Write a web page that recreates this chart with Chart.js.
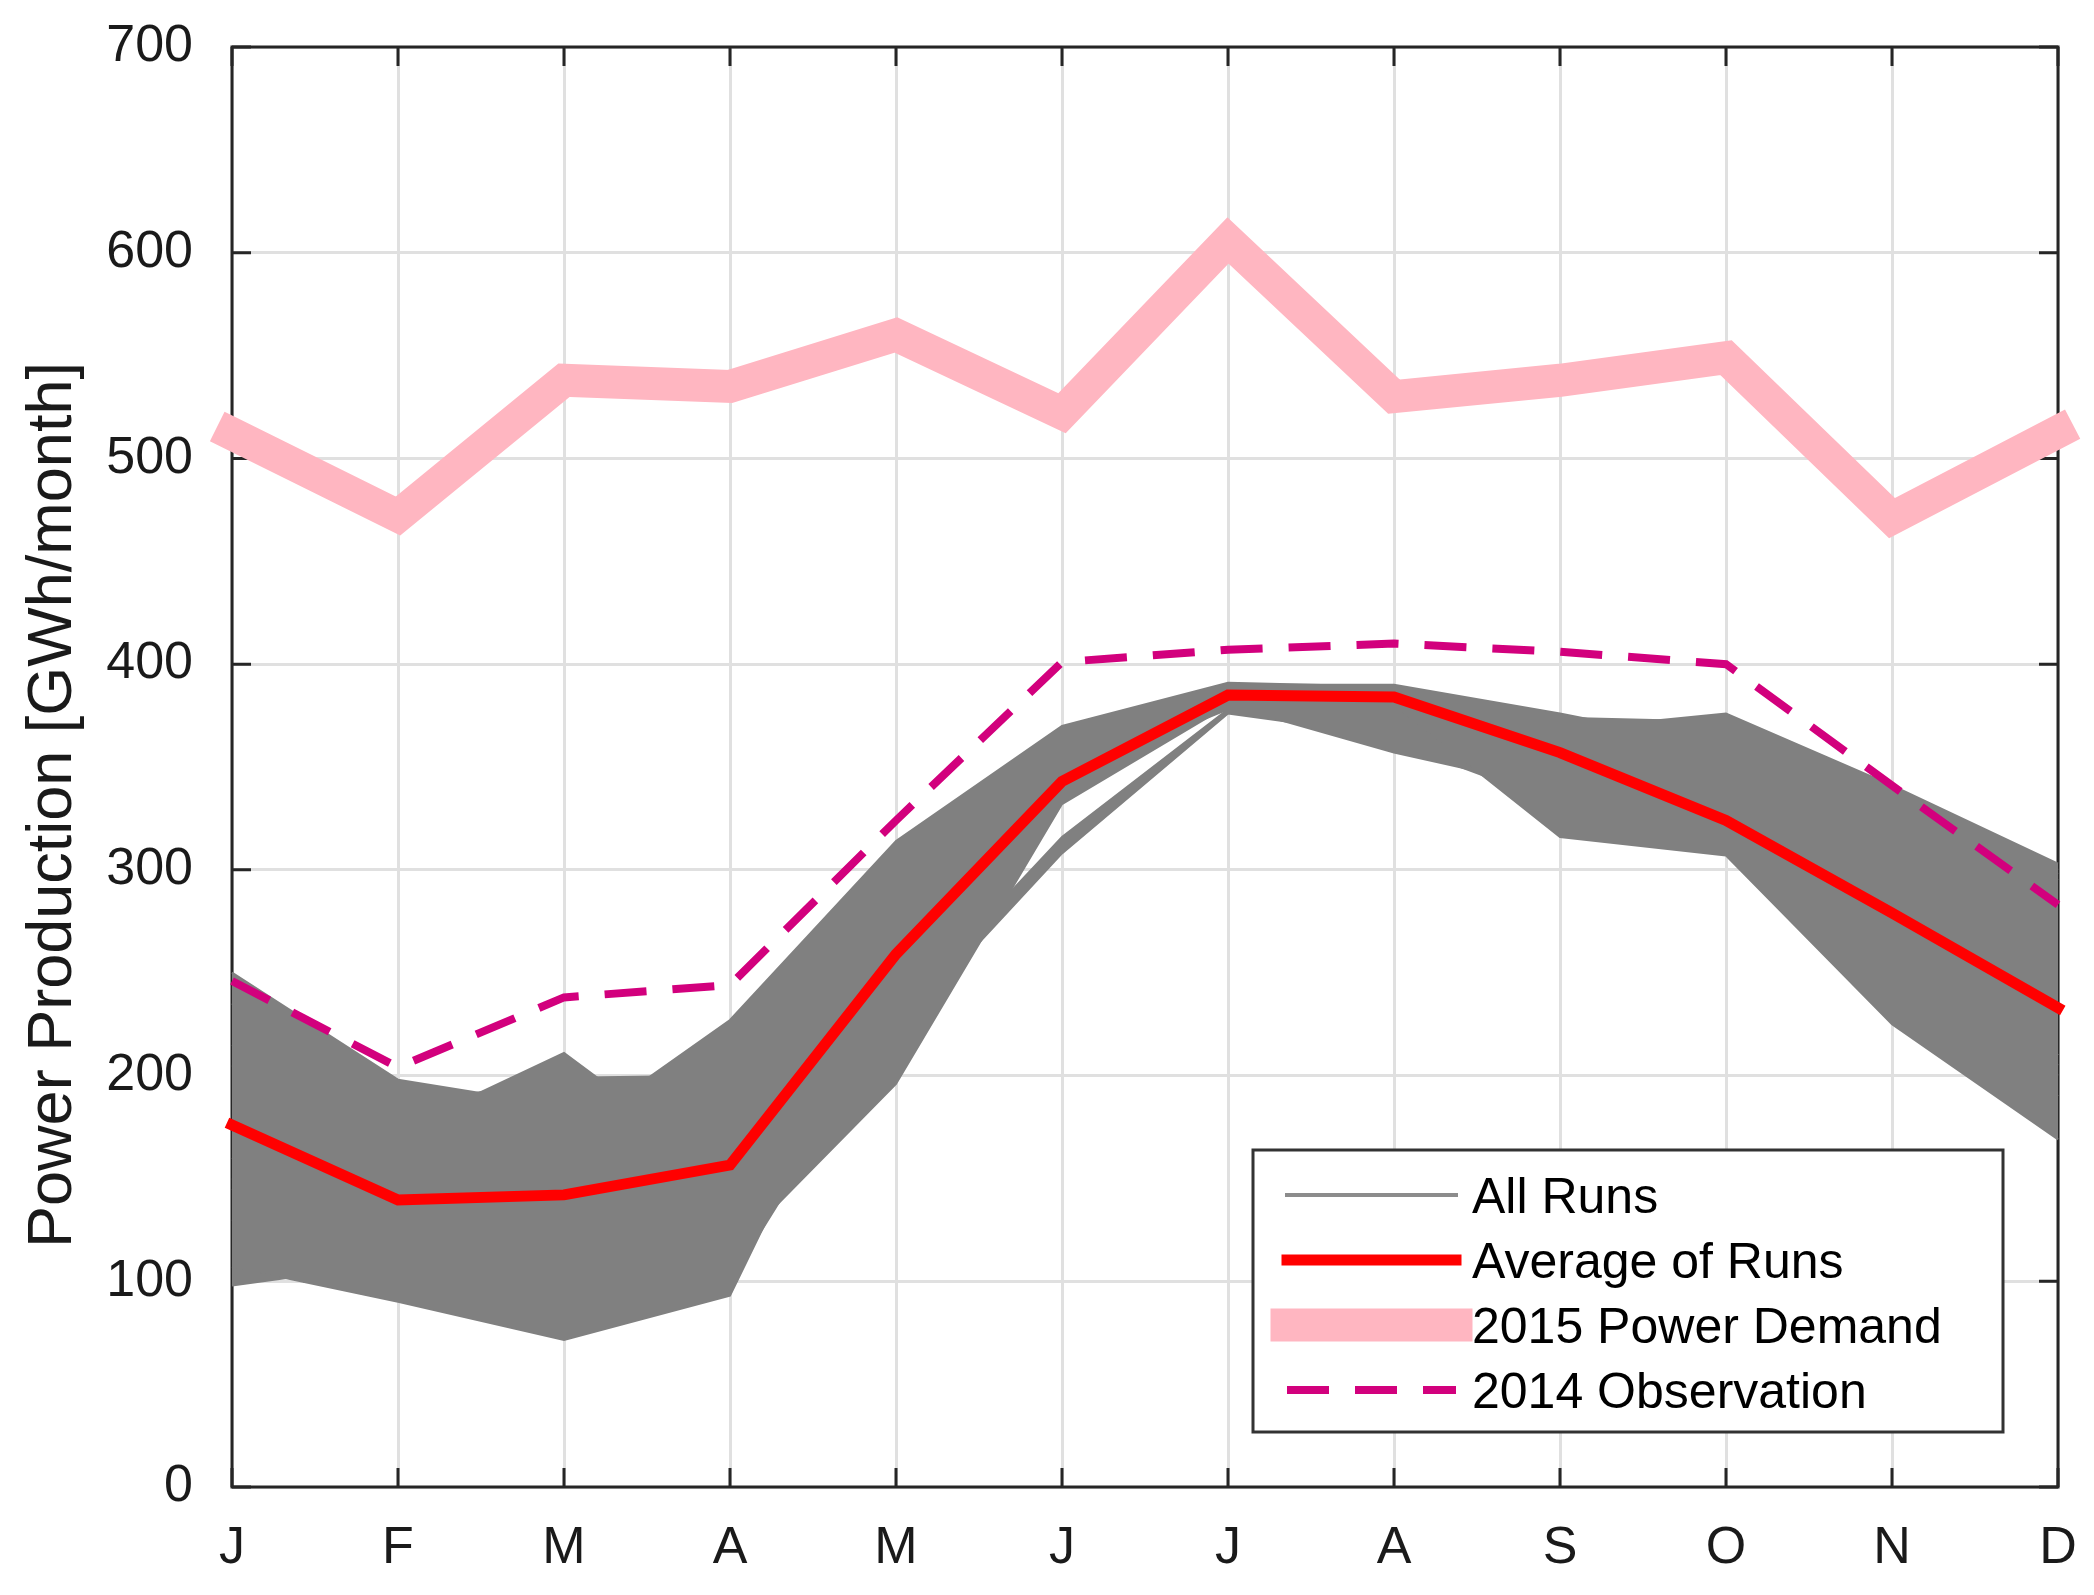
<!DOCTYPE html>
<html>
<head>
<meta charset="utf-8">
<script src="https://cdn.jsdelivr.net/npm/chart.js@4/dist/chart.umd.min.js"></script>
<style>
  html, body { margin: 0; padding: 0; background: #fff; }
  canvas { display: block; }
</style>
</head>
<body>
<canvas id="powerChart" width="2094" height="1595" style="width:2094px;height:1595px"></canvas>
<script>
// month initials on the x axis
const months = ['J', 'F', 'M', 'A', 'M', 'J', 'J', 'A', 'S', 'O', 'N', 'D'];
const yTickValues = [0, 100, 200, 300, 400, 500, 600, 700];
const yTitle = 'Power Production [GWh/month]';

// GWh/month
const demand2015 = [512, 472, 538, 535, 560, 522, 606, 530, 538, 549, 471, 513];
const obs2014 = [246, 204, 238, 244, 324, 401, 407, 410, 406, 400, 341, 283];
const avgRuns = [176, 139.5, 142, 156.5, 259, 343, 385, 384, 357, 324, 279, 233];

// a handful of the individual runs that outline the grey band
const run01 = [250, 198, 185, 200, 300, 360, 388, 388, 372, 366, 330, 295];
const run02 = [235, 173, 211, 151, 285, 355, 387, 385, 368, 376, 341, 303];
const run03 = [215, 185, 199, 200, 305, 365, 390, 390, 376, 360, 335, 298];
const run04 = [205, 178, 170, 227, 314, 370, 391, 389, 374, 372, 338, 300];
const run05 = [175, 140, 140, 157, 260, 345, 384, 383, 357, 324, 279, 233];
const run06 = [150, 120, 110, 130, 240, 335, 382, 375, 340, 315, 260, 210];
const run07 = [98, 109, 90, 100, 230, 338, 380, 357, 339, 310, 240, 190];
const run08 = [107, 90, 71.5, 93, 259, 345, 378, 380, 316, 307, 225, 169];
const run09 = [160, 125, 100, 114, 196, 332, 380, 362, 332, 312, 250, 200];
const run10 = [130, 110, 95, 105, 221, 308, 376, 365, 335, 318, 255, 205];
const run11 = [145, 120, 105, 140, 230, 316, 378, 370, 340, 320, 260, 210];

const mainRuns = [run01, run02, run03, run04, run05, run06, run07, run08, run09];
const lowRuns = [run10, run11];

const GREY = 'rgb(128,128,128)';
const FONT = '"Liberation Sans", Arial, Helvetica, sans-serif';
Chart.defaults.font.family = FONT;

// main band: every run fills to run08, the low strip fills between its two runs
const MAIN_BASE = 7;
const LOW_BASE = mainRuns.length;

const runSets = [];
mainRuns.forEach((vals, i) => {
    runSets.push({
        label: 'All Runs', data: vals,
        borderColor: GREY, backgroundColor: GREY, borderWidth: 2,
        pointRadius: 0, tension: 0, order: 5,
        fill: i === MAIN_BASE ? false : MAIN_BASE,
        inLegend: i === 0, legendColor: '#8c8c8c', legendWidth: 4
    });
});
lowRuns.forEach((vals, i) => {
    runSets.push({
        label: 'All Runs', data: vals,
        borderColor: GREY, backgroundColor: GREY, borderWidth: 2,
        pointRadius: 0, tension: 0, order: 5,
        fill: i === 0 ? false : LOW_BASE
    });
});

const datasets = runSets.concat([
    {
        label: 'Average of Runs', data: avgRuns,
        borderColor: '#ff0000', borderWidth: 11, borderCapStyle: 'square',
        pointRadius: 0, tension: 0, fill: false, order: 2, clip: false, inLegend: true
    },
    {
        label: '2015 Power Demand', data: demand2015,
        borderColor: '#ffb6c1', borderWidth: 33, borderCapStyle: 'square',
        pointRadius: 0, tension: 0, fill: false, order: 3, clip: false, inLegend: true
    },
    {
        label: '2014 Observation', data: obs2014,
        borderColor: 'rgb(210,0,125)', borderWidth: 8, borderDash: [42, 26],
        pointRadius: 0, tension: 0, fill: false, order: 1, inLegend: true
    }
]);

// box round the axes with inward ticks, drawn under the data like MATLAB
const frameTicks = {
    id: 'frameTicks',
    beforeDatasetsDraw(chart) {
        const { ctx, chartArea: a, scales: { x, y } } = chart;
        const len = 19;
        ctx.save();
        ctx.strokeStyle = '#262626';
        ctx.lineWidth = 3;
        ctx.beginPath();
        months.forEach((m, i) => {
            const px = x.getPixelForValue(i);
            ctx.moveTo(px, a.bottom); ctx.lineTo(px, a.bottom - len);
            ctx.moveTo(px, a.top); ctx.lineTo(px, a.top + len);
        });
        yTickValues.forEach(v => {
            const py = y.getPixelForValue(v);
            ctx.moveTo(a.left, py); ctx.lineTo(a.left + len, py);
            ctx.moveTo(a.right, py); ctx.lineTo(a.right - len, py);
        });
        ctx.stroke();
        ctx.strokeRect(a.left, a.top, a.right - a.left, a.bottom - a.top);
        ctx.restore();
    }
};

// legend box in the lower right corner + y title
const boxLegend = {
    id: 'boxLegend',
    afterDraw(chart) {
        const { ctx, chartArea: a } = chart;
        const items = chart.data.datasets.filter(d => d.inLegend);
        const w = 750, h = 282;
        const left = a.right - 55 - w, top = a.bottom - 55 - h;
        ctx.save();
        ctx.fillStyle = '#fff';
        ctx.fillRect(left, top, w, h);
        ctx.strokeStyle = '#333';
        ctx.lineWidth = 3;
        ctx.strokeRect(left, top, w, h);
        ctx.font = '50px ' + FONT;
        ctx.textBaseline = 'alphabetic';
        items.forEach((d, i) => {
            const cy = top + 45 + 65 * i;
            ctx.save();
            ctx.strokeStyle = d.legendColor || d.borderColor;
            ctx.lineWidth = d.legendWidth || d.borderWidth;
            ctx.setLineDash(d.borderDash || []);
            ctx.lineCap = d.borderDash ? 'butt' : 'square';
            ctx.beginPath();
            ctx.moveTo(left + 34, cy);
            ctx.lineTo(left + 203, cy);
            ctx.stroke();
            ctx.restore();
            ctx.fillStyle = '#000';
            ctx.fillText(d.label, left + 219, cy + 18);
        });

        // y axis title (sits a little below the axis middle in the original)
        ctx.save();
        ctx.translate(71, 805);
        ctx.rotate(-Math.PI / 2);
        ctx.font = '63px ' + FONT;
        ctx.fillStyle = '#1a1a1a';
        ctx.textAlign = 'center';
        ctx.fillText(yTitle, 0, 0);
        ctx.restore();
        ctx.restore();
    }
};

new Chart(document.getElementById('powerChart').getContext('2d'), {
    type: 'line',
    data: { labels: months, datasets: datasets },
    options: {
        responsive: false,
        animation: false,
        layout: { padding: { top: 47, right: 36, left: 0, bottom: 0 } },
        plugins: {
            legend: { display: false },
            tooltip: { enabled: false },
            filler: { propagate: false }
        },
        scales: {
            x: {
                type: 'category',
                offset: false,
                grid: { color: '#e0e0e0', lineWidth: 3, drawTicks: false },
                border: { display: false },
                ticks: { font: { size: 52 }, color: '#1a1a1a', padding: 30, autoSkip: false, maxRotation: 0 },
                // fixed band under the axes; label overhang handled by layout padding
                afterFit: s => { s.height = 108; s.paddingLeft = 0; s.paddingRight = 0; }
            },
            y: {
                min: 0,
                max: 700,
                grid: { color: '#e0e0e0', lineWidth: 3, drawTicks: false },
                border: { display: false },
                ticks: { stepSize: 100, font: { size: 52 }, color: '#1a1a1a', padding: 39 },
                afterBuildTicks: s => { s.ticks = yTickValues.map(v => ({ value: v })); },
                afterFit: s => { s.width = 232; s.paddingTop = 0; s.paddingBottom = 0; }
            }
        }
    },
    plugins: [frameTicks, boxLegend]
});
</script>
</body>
</html>
